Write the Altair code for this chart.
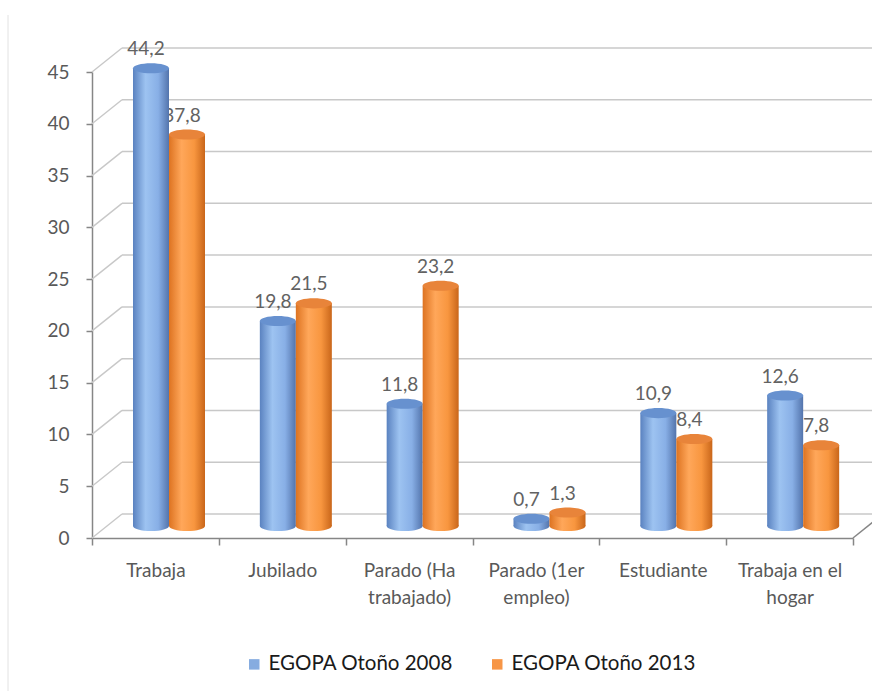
import altair as alt
import pandas as pd

categories = ["Trabaja", "Jubilado", "Parado (Ha\ntrabajado)", "Parado (1er\nempleo)",
              "Estudiante", "Trabaja en el\nhogar"]
series = ["EGOPA Otoño 2008", "EGOPA Otoño 2013"]
values_2008 = [44.2, 19.8, 11.8, 0.7, 10.9, 12.6]
values_2013 = [37.8, 21.5, 23.2, 1.3, 8.4, 7.8]
y_ticks = [0, 5, 10, 15, 20, 25, 30, 35, 40, 45]

rows = []
for c, a, b in zip(categories, values_2008, values_2013):
    rows.append({"cat": c, "serie": series[0], "v": a})
    rows.append({"cat": c, "serie": series[1], "v": b})
df = pd.DataFrame(rows)
ticks_df = pd.DataFrame({"t": y_ticks})

W, H = 761, 466
DX, DY = 30, -24
MIDY = -12
FONT = "Lato"
GRAY = "#595959"
GRID = "#C8C8C8"
AXIS = "#868686"
ELLIPSE = "M -1 0 A 1 0.28 0 1 1 1 0 A 1 0.28 0 1 1 -1 0 Z"

y_scale = alt.Scale(domain=[0, 45], nice=False, zero=True)
y_axis = alt.Axis(values=y_ticks, title=None, grid=False, domainColor=AXIS, domainWidth=1.5,
                  tickColor=AXIS, tickSize=6, tickWidth=1.5, labelFont=FONT, labelFontSize=19,
                  labelColor=GRAY, labelPadding=17)
x_axis = alt.Axis(title=None, tickBand="extent", labelExpr="split(datum.label, '\\n')",
                  labelAngle=0, labelFont=FONT, labelFontSize=19, labelColor=GRAY,
                  labelLineHeight=27, labelPadding=16, tickSize=7, tickColor=AXIS, tickWidth=1.5,
                  domainColor=AXIS, domainWidth=1.5, grid=False)
x_enc = alt.X("cat:N", sort=categories, scale=alt.Scale(paddingInner=0, paddingOuter=0), axis=x_axis)
xoff = alt.XOffset("serie:N", sort=series,
                   scale=alt.Scale(domain=series, range=[41, 113], paddingInner=0, paddingOuter=0))


def grad(stops):
    return {"gradient": "linear", "x1": 0, "x2": 1, "y1": 0, "y2": 0,
            "stops": [{"offset": o, "color": c} for o, c in stops]}


blue_grad = grad([(0, "#5A82C0"), (0.35, "#9DC3F1"), (0.7, "#88AFE6"), (1, "#5374AC")])
orange_grad = grad([(0, "#DD7321"), (0.35, "#FFA75A"), (0.7, "#F8963F"), (1, "#C9661A")])
tops = ["#6791CF", "#E8843A"]
legend_colors = ["#86ACE0", "#F79646"]

# back wall grid lines + diagonals
diag = alt.Chart(ticks_df).mark_rule(color=GRID, strokeWidth=1.5, y2Offset=DY).encode(
    x=alt.value(0), x2=alt.value(DX),
    y=alt.Y("t:Q", scale=y_scale, axis=y_axis), y2="t:Q")
horiz = alt.Chart(ticks_df).mark_rule(color=GRID, strokeWidth=1.5, yOffset=DY).encode(
    x=alt.value(DX), x2=alt.value(W + DX + 30),
    y=alt.Y("t:Q", scale=y_scale, axis=y_axis))
floor_right = alt.Chart(ticks_df).transform_filter(alt.datum.t == 0).mark_rule(
    color=AXIS, strokeWidth=1.5, y2Offset=DY).encode(
    x=alt.value(W), x2=alt.value(W + DX),
    y=alt.Y("t:Q", scale=y_scale, axis=y_axis), y2="t:Q")
border = alt.Chart(ticks_df).transform_filter(alt.datum.t == 0).mark_rule(
    color="#E2E2E2", strokeWidth=1).encode(
    x=alt.value(-84), y=alt.value(-57), y2=alt.value(H + 153))

text = alt.Chart(df).transform_calculate(
    lbl="replace(format(datum.v, '.1f'), '.', ',')").mark_text(
    font=FONT, fontSize=19, color="#626262", dx=-5, dy=-19 + MIDY, baseline="middle").encode(
    x=x_enc, xOffset=xoff, y=alt.Y("v:Q", scale=y_scale, axis=y_axis), text="lbl:N")

layers = [border, horiz, diag, floor_right, text]
for s, g, top in zip(series, [blue_grad, orange_grad], tops):
    base = alt.Chart(df).transform_filter(alt.datum.serie == s).transform_calculate(zero="0")
    bottom = base.mark_point(shape=ELLIPSE, size=1296, filled=True, fill=g, opacity=1,
                             strokeWidth=0, yOffset=MIDY).encode(
        x=x_enc, xOffset=xoff, y=alt.Y("zero:Q", scale=y_scale, axis=y_axis))
    bar = base.mark_bar(fill=g, yOffset=MIDY, y2Offset=MIDY).encode(
        x=x_enc, xOffset=xoff, y=alt.Y("v:Q", scale=y_scale, axis=y_axis),
        y2="zero:Q")
    topm = base.mark_point(shape=ELLIPSE, size=1296, filled=True, fill=top, opacity=1,
                           strokeWidth=0, yOffset=MIDY).encode(
        x=x_enc, xOffset=xoff, y=alt.Y("v:Q", scale=y_scale, axis=y_axis))
    layers += [bottom, bar, topm]

legend_layer = alt.Chart(df).mark_point(filled=True, size=0, opacity=1).encode(
    x=x_enc, xOffset=xoff, y=alt.Y("v:Q", scale=y_scale, axis=y_axis),
    color=alt.Color("serie:N", scale=alt.Scale(domain=series, range=legend_colors),
                    legend=alt.Legend(title=None, orient="none", legendX=152, legendY=582,
                                      direction="horizontal", symbolType="square",
                                      symbolSize=110, symbolStrokeWidth=0, symbolOpacity=1,
                                      labelFont=FONT, labelFontSize=20.5, labelColor="#1A1A1A",
                                      labelLimit=400, columnPadding=34, labelOffset=4)))
layers.append(legend_layer)

chart = alt.layer(*layers).properties(
    width=W, height=H,
    padding={"left": 92, "top": 72, "right": 19, "bottom": 153},
    autosize=alt.AutoSizeParams(type="none"),
    background="white",
).configure_view(stroke=None)

chart.save("out.html", embed_options={"renderer": "svg", "actions": False})
